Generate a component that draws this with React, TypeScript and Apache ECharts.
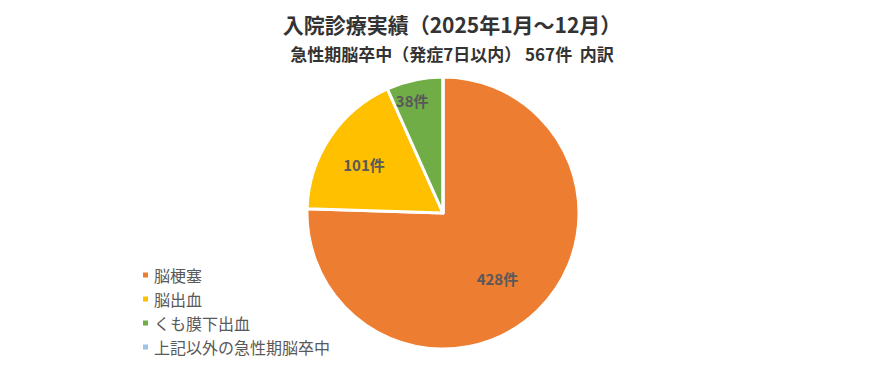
import React, { useEffect, useRef } from "react";
import * as echarts from "echarts";

const categories = ["脳梗塞", "脳出血", "くも膜下出血", "上記以外の急性期脳卒中"];
const values = [428, 101, 38, 0];
const colors = ["#ED7D31", "#FFC000", "#70AD47", "#9DC3E6"];
const labelOffsets = [
  [5, 15],
  [-20, -9],
  [-16, -43],
  [0, 0],
];

const FONT = "'Noto Sans CJK JP', 'Noto Sans', sans-serif";

export default function App() {
  const ref = useRef<HTMLDivElement>(null);
  useEffect(() => {
    if (!ref.current) return;
    const chart = echarts.init(ref.current, null, { renderer: "svg" });
    chart.setOption({
      animation: false,
      backgroundColor: "#ffffff",
      title: [
        {
          text: "入院診療実績（2025年1月～12月）",
          left: 439,
          top: 0,
          textAlign: "center",
          textStyle: { fontFamily: FONT, fontSize: 21, fontWeight: "bold", color: "#333333" },
        },
        {
          text: "急性期脳卒中（発症7日以内） 567件  内訳",
          left: 439,
          top: 32,
          textAlign: "center",
          textStyle: { fontFamily: FONT, fontSize: 17, fontWeight: "bold", color: "#333333" },
        },
      ],
      legend: {
        orient: "vertical",
        left: 128,
        top: 254,
        height: 120,
        itemWidth: 7,
        itemHeight: 7,
        itemGap: 8,
        icon: "rect",
        data: categories,
        textStyle: { fontFamily: FONT, fontSize: 16, color: "#595959" },
      },
      series: [
        {
          type: "pie",
          center: [435, 205],
          radius: [0, 136],
          startAngle: 90,
          clockwise: true,
          avoidLabelOverlap: false,
          itemStyle: { borderColor: "#ffffff", borderWidth: 3 },
          label: {
            show: true,
            position: "inside",
            formatter: "{c}件",
            fontFamily: FONT,
            fontSize: 15,
            fontWeight: "bold",
            color: "#595959",
          },
          labelLine: { show: false },
          labelLayout: (p: any) => ({
            dx: labelOffsets[p.dataIndex][0],
            dy: labelOffsets[p.dataIndex][1],
          }),
          emphasis: { disabled: true },
          data: categories.map((name, i) => ({
            name,
            value: values[i],
            itemStyle: { color: colors[i] },
            label: { show: values[i] > 0 },
          })),
        },
      ],
    });
    return () => chart.dispose();
  }, []);
  return <div ref={ref} style={{ width: 856, height: 359 }} />;
}
